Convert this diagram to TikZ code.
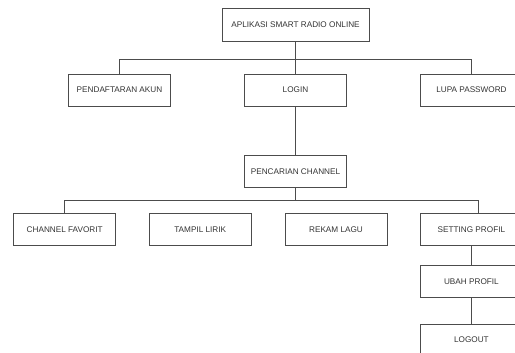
\documentclass[tikz,border=0pt]{standalone}
\usepackage{fontspec}
\setmainfont{Liberation Sans}
\usetikzlibrary{ % tikz packages
    positioning
}
\tikzset{box/.style={
    draw=black!70,
    line width=0.6pt,
    minimum width=102pt,
    minimum height=32pt,
    inner sep=2pt,
    text=black!80,
    font=\fontsize{8.2}{10}\selectfont
}}
\tikzset{link/.style={draw=black!70, line width=0.6pt}}

\begin{document}
\begin{tikzpicture}[node distance=2cm,on grid,x=1pt,y=1pt]
            \clip (0,0) rectangle (515,-353);
            \node[box, minimum width=147pt, minimum height=33pt] (app) at (295.5,-24.5) {APLIKASI SMART RADIO ONLINE};
            \node[box] (login) [below=65.5pt of app] {LOGIN};
            \node[box] (daftar) [left=176pt of login] {PENDAFTARAN AKUN};
            \node[box] (lupa) [right=176pt of login] {LUPA PASSWORD};
            \node[box] (cari) [below=81.7pt of login] {PENCARIAN CHANNEL};
            \node[box] (lirik) [below left=57.5pt and 95.3pt of cari] {TAMPIL LIRIK};
            \node[box] (favorit) [left=135.5pt of lirik] {CHANNEL FAVORIT};
            \node[box] (rekam) [right=135.8pt of lirik] {REKAM LAGU};
            \node[box] (setting) [right=135.4pt of rekam] {SETTING PROFIL};
            \node[box] (ubah) [below=52.3pt of setting] {UBAH PROFIL};
            \node[box] (logout) [below=58.5pt of ubah] {LOGOUT};

            \path[link]
                (app) edge (login)
                (login) edge (cari)
                (setting) edge (ubah)
                (ubah) edge (logout);
            \draw[link] (daftar.north) -- ++(0,14.5) -| (lupa.north);
            \draw[link] (cari.south) -- ++(0,-13.4);
            \draw[link] (favorit.north) -- ++(0,12.3) -| ([xshift=7pt]setting.north);
        \end{tikzpicture}
\end{document}
